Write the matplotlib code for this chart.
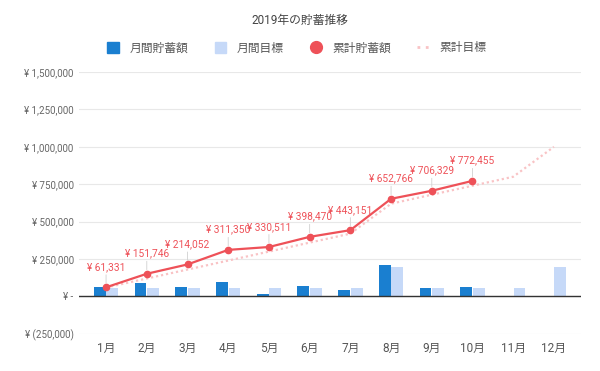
import matplotlib
matplotlib.use('Agg')
import matplotlib.pyplot as plt
import numpy as np
from matplotlib.ticker import FuncFormatter
from matplotlib.lines import Line2D
from matplotlib.patches import Patch

plt.rcParams['font.family'] = ['Roboto', 'Noto Sans CJK JP', 'DejaVu Sans']

# data
months = ['1月', '2月', '3月', '4月', '5月', '6月', '7月', '8月', '9月', '10月', '11月', '12月']
monthly_saving = [61331, 90415, 62306, 97298, 19161, 67959, 44681, 209615, 53563, 66126]
monthly_target = [60000, 60000, 60000, 60000, 60000, 60000, 60000, 200000, 60000, 60000, 60000, 200000]
cum_saving = [61331, 151746, 214052, 311350, 330511, 398470, 443151, 652766, 706329, 772455]
cum_target = [60000, 120000, 180000, 240000, 300000, 360000, 420000, 620000, 680000, 740000, 800000, 1000000]

dark_blue = '#1a7fd0'
light_blue = '#c6d9f8'
red = '#ee5158'
pink = '#f9c3c5'

fig = plt.figure(figsize=(6, 3.71), dpi=100)
ax = fig.add_axes([0.132, 0.10, 0.836, 0.706])

x = np.arange(len(months))
w = 0.29
ax.bar(x[:len(monthly_saving)] - w / 2 - 0.01, monthly_saving, w, color=dark_blue, zorder=2)
ax.bar(x + w / 2 + 0.01, monthly_target, w, color=light_blue, zorder=2)

ax.plot(x, cum_target, color=pink, lw=1.6, linestyle=(0, (1, 1.3)), zorder=3)
ax.plot(x[:len(cum_saving)], cum_saving, color=red, lw=1.6, marker='o', markersize=4.5, zorder=4)

for xi, v in zip(x, cum_saving):
    ax.annotate(f'¥ {v:,}', xy=(xi, v), xytext=(0, 11), textcoords='offset points',
                ha='center', va='bottom', fontsize=7.3, color=red, zorder=5,
                arrowprops=dict(arrowstyle='-', color='#d0d0d0', lw=0.6, shrinkA=0, shrinkB=3))

def yen(v, pos):
    if v == 0:
        return '¥ -'
    if v < 0:
        return f'¥ ({-v:,.0f})'
    return f'¥ {v:,.0f}'

ax.set_ylim(-250000, 1500000)
ax.set_yticks(np.arange(-250000, 1500001, 250000))
ax.yaxis.set_major_formatter(FuncFormatter(yen))
ax.set_xlim(-0.66, 11.66)
ax.set_xticks(x)
ax.set_xticklabels(months)
ax.tick_params(axis='y', length=0, labelsize=7, labelcolor='#666666', pad=4)
ax.tick_params(axis='x', length=0, labelsize=8.5, labelcolor='#555555', pad=6)
for s in ax.spines.values():
    s.set_visible(False)
ax.grid(axis='y', color='#e8e8e8', lw=0.8, zorder=0)
ax.axhline(0, color='#333333', lw=1, zorder=3)

fig.suptitle('2019年の貯蓄推移', y=0.946, fontsize=8.5, color='#444444', va='center')

handles = [
    Patch(color=dark_blue),
    Patch(color=light_blue),
    Line2D([], [], color=red, marker='o', linestyle='none', markersize=8.5),
    Line2D([], [], color=pink, lw=2, linestyle=(0, (1, 2))),
]
labels = ['月間貯蓄額', '月間目標', '累計貯蓄額', '累計目標']
fig.legend(handles, labels, loc='center', bbox_to_anchor=(0.495, 1 - 48 / 371), ncol=4,
           frameon=False, fontsize=8.5, labelcolor='#555555', handlelength=1.0,
           handleheight=1.0, handletextpad=0.9, columnspacing=2.2)

fig.savefig('out.png', dpi=100)
